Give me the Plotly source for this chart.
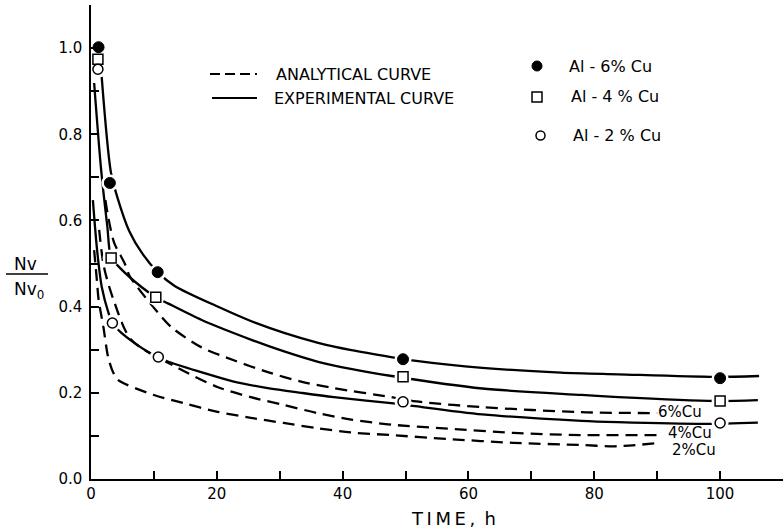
import plotly.graph_objects as go

# ---------------- data ----------------
# experimental points
t_cu6 = [1.2, 3.0, 10.6, 49.6, 100.0]
nv_cu6 = [1.002, 0.687, 0.480, 0.278, 0.234]
t_cu4 = [1.1, 3.2, 10.3, 49.6, 100.0]
nv_cu4 = [0.974, 0.513, 0.422, 0.237, 0.181]
t_cu2 = [1.1, 3.4, 10.7, 49.6, 100.0]
nv_cu2 = [0.951, 0.362, 0.283, 0.179, 0.130]

# experimental (solid) curves
exp6_t = [1.7, 3.16, 4.23, 6.09, 8.12, 10.6, 13.3, 20.3, 25.5, 30.7, 36.1, 41.4, 47.7, 51.7, 62.2, 74.7, 83.8, 99.1, 106.2]
exp6_v = [0.933, 0.712, 0.652, 0.575, 0.524, 0.480, 0.448, 0.399, 0.366, 0.339, 0.316, 0.299, 0.283, 0.274, 0.258, 0.247, 0.243, 0.237, 0.239]
exp4_t = [0.5, 1.57, 2.6, 3.19, 4.6, 8.07, 10.3, 12.3, 17.6, 25.5, 30.7, 36.1, 41.5, 47.8, 62.2, 78.0, 83.8, 99.1, 106.0]
exp4_v = [0.919, 0.724, 0.585, 0.515, 0.490, 0.445, 0.422, 0.407, 0.369, 0.323, 0.296, 0.272, 0.255, 0.239, 0.210, 0.195, 0.190, 0.181, 0.183]
exp2_t = [0.3, 0.97, 1.72, 2.79, 3.41, 4.83, 6.88, 9.09, 10.7, 12.3, 17.5, 22.7, 28.1, 33.4, 38.6, 47.7, 62.2, 78.0, 83.7, 97.4, 106.0]
exp2_v = [0.647, 0.531, 0.445, 0.385, 0.362, 0.339, 0.316, 0.295, 0.283, 0.272, 0.248, 0.226, 0.211, 0.200, 0.190, 0.176, 0.150, 0.135, 0.132, 0.128, 0.131]

# analytical (dashed) curves
ana6_t = [2.3, 2.62, 3.69, 5.4, 6.18, 10.7, 12.8, 17.5, 22.8, 28.1, 33.4, 38.6, 47.7, 51.7, 62.0, 77.9, 90.0]
ana6_v = [0.647, 0.617, 0.548, 0.499, 0.470, 0.385, 0.352, 0.306, 0.275, 0.248, 0.226, 0.211, 0.190, 0.180, 0.167, 0.155, 0.153]
ana4_t = [1.3, 2.06, 3.6, 6.4, 13.8, 20.2, 25.4, 30.6, 36.0, 41.4, 47.8, 56.7, 67.2, 77.8, 91.0]
ana4_v = [0.578, 0.492, 0.415, 0.323, 0.258, 0.213, 0.190, 0.172, 0.153, 0.138, 0.126, 0.117, 0.107, 0.102, 0.102]
ana2_t = [0.5, 0.93, 1.22, 1.97, 2.72, 3.5, 4.28, 10.0, 14.7, 20.1, 25.4, 30.6, 36.0, 41.3, 47.6, 56.6, 67.1, 77.7, 83.6, 90.5]
ana2_v = [0.531, 0.462, 0.415, 0.353, 0.283, 0.248, 0.230, 0.195, 0.176, 0.156, 0.142, 0.130, 0.118, 0.108, 0.102, 0.093, 0.084, 0.079, 0.076, 0.084]

x_tick_vals = [0, 20, 40, 60, 80, 100]
x_tick_text = ["0", "20", "40", "60", "80", "100"]
y_tick_vals = [0.0, 0.2, 0.4, 0.6, 0.8, 1.0]
y_tick_text = ["0.0", "0.2", "0.4", "0.6", "0.8", "1.0"]

# ---------------- figure ----------------
W, H = 783, 532
ML, MR, MT, MB = 91, 0, 5, 53
PW, PH = W - ML - MR, H - MT - MB
FONT = "DejaVu Sans"


def px(xp):
    return (xp - ML) / PW


def py(yp):
    return (H - MB - yp) / PH


fig = go.Figure()

LW = 2.3
DASH = "12px,7px"
for t, v in [(exp6_t, exp6_v), (exp4_t, exp4_v), (exp2_t, exp2_v)]:
    fig.add_trace(go.Scatter(x=t, y=v, mode="lines", line=dict(color="black", width=LW, shape="spline", smoothing=0.8),
                             hoverinfo="skip", showlegend=False))
for t, v in [(ana6_t, ana6_v), (ana4_t, ana4_v), (ana2_t, ana2_v)]:
    fig.add_trace(go.Scatter(x=t, y=v, mode="lines", line=dict(color="black", width=LW, dash=DASH, shape="spline", smoothing=0.8),
                             hoverinfo="skip", showlegend=False))

# white halos creating gaps around the markers
for t, v in [(t_cu6, nv_cu6), (t_cu4, nv_cu4), (t_cu2, nv_cu2)]:
    fig.add_trace(go.Scatter(x=t, y=v, mode="markers", marker=dict(symbol="circle", size=17, color="white", line=dict(width=0)),
                             hoverinfo="skip", showlegend=False))

fig.add_trace(go.Scatter(x=t_cu6, y=nv_cu6, mode="markers", name="Al - 6% Cu",
                         marker=dict(symbol="circle", size=11, color="black", line=dict(color="black", width=1)), showlegend=False))
fig.add_trace(go.Scatter(x=t_cu4, y=nv_cu4, mode="markers", name="Al - 4 % Cu",
                         marker=dict(symbol="square", size=10, color="white", line=dict(color="black", width=1.5)), showlegend=False))
fig.add_trace(go.Scatter(x=t_cu2, y=nv_cu2, mode="markers", name="Al - 2 % Cu",
                         marker=dict(symbol="circle", size=10, color="white", line=dict(color="black", width=1.5)), showlegend=False))

shapes = []
annotations = []

# legend: line styles
shapes.append(dict(type="line", xref="paper", yref="paper", x0=px(210), x1=px(257), y0=py(74), y1=py(74),
                   line=dict(color="black", width=2, dash="10px,5px")))
shapes.append(dict(type="line", xref="paper", yref="paper", x0=px(212), x1=px(257), y0=py(98), y1=py(98),
                   line=dict(color="black", width=2)))
annotations.append(dict(xref="paper", yref="paper", x=px(274), y=py(74), text="ANALYTICAL CURVE", showarrow=False,
                        xanchor="left", yanchor="middle", font=dict(family=FONT, size=16, color="black")))
annotations.append(dict(xref="paper", yref="paper", x=px(272), y=py(98), text="EXPERIMENTAL CURVE", showarrow=False,
                        xanchor="left", yanchor="middle", font=dict(family=FONT, size=16, color="black")))

# legend: markers
shapes.append(dict(type="circle", xref="paper", yref="paper", x0=px(532), x1=px(542), y0=py(61), y1=py(71),
                   fillcolor="black", line=dict(color="black", width=1)))
shapes.append(dict(type="rect", xref="paper", yref="paper", x0=px(532), x1=px(542), y0=py(92), y1=py(102),
                   fillcolor="white", line=dict(color="black", width=1.5)))
shapes.append(dict(type="circle", xref="paper", yref="paper", x0=px(536), x1=px(545), y0=py(131), y1=py(140),
                   fillcolor="white", line=dict(color="black", width=1.5)))
for yy, xx, txt in [(66, 567, "Al - 6% Cu"), (97, 569, "Al - 4 % Cu"), (135, 571, "Al - 2 % Cu")]:
    annotations.append(dict(xref="paper", yref="paper", x=px(xx), y=py(yy), text=txt, showarrow=False,
                            xanchor="left", yanchor="middle", font=dict(family=FONT, size=16, color="black")))

# curve labels
for yy, xx, txt in [(412, 656, "6%Cu"), (433, 666, "4%Cu"), (450, 670, "2%Cu")]:
    annotations.append(dict(xref="paper", yref="paper", x=px(xx), y=py(yy), text=txt, showarrow=False,
                            xanchor="left", yanchor="middle", font=dict(family=FONT, size=15, color="black")))

# y-axis label as fraction
annotations.append(dict(xref="paper", yref="paper", x=px(25), y=py(264), text="Nv", showarrow=False,
                        xanchor="center", yanchor="middle", font=dict(family=FONT, size=17, color="black")))
shapes.append(dict(type="line", xref="paper", yref="paper", x0=px(6), x1=px(48), y0=py(274), y1=py(274),
                   line=dict(color="black", width=1.5)))
annotations.append(dict(xref="paper", yref="paper", x=px(12), y=py(290), text="Nv<sub>0</sub>", showarrow=False,
                        xanchor="left", yanchor="middle", font=dict(family=FONT, size=17, color="black")))

# x-axis title
annotations.append(dict(xref="paper", yref="paper", x=px(453), y=py(518), text="T\u2009I\u2009M\u2009E\u2009,\u2009 h", showarrow=False,
                        xanchor="center", yanchor="middle", font=dict(family=FONT, size=18, color="black")))

axis_common = dict(showline=True, linecolor="black", linewidth=1.5, ticks="inside", ticklen=8, tickwidth=1.5,
                   tickcolor="black", showgrid=False, zeroline=False, tickfont=dict(family=FONT, size=15, color="black"))

fig.update_layout(
    width=W, height=H,
    margin=dict(l=ML, r=MR, t=MT, b=MB),
    paper_bgcolor="white", plot_bgcolor="white",
    xaxis=dict(range=[0, 110], tickmode="array", tickvals=x_tick_vals, ticktext=x_tick_text,
               minor=dict(ticks="inside", ticklen=8, tickwidth=1.5, tickcolor="black", dtick=10, tick0=0, showgrid=False),
               **axis_common),
    yaxis=dict(range=[0, 1.10], tickmode="array", tickvals=y_tick_vals, ticktext=y_tick_text,
               minor=dict(ticks="inside", ticklen=8, tickwidth=1.5, tickcolor="black", dtick=0.1, tick0=0, showgrid=False),
               ticklabelstandoff=4, **axis_common),
    shapes=shapes, annotations=annotations,
    showlegend=False,
)

fig.write_html("out.html", config={"displayModeBar": False},
               post_script="document.body.style.margin='0';document.body.style.overflow='hidden';")
